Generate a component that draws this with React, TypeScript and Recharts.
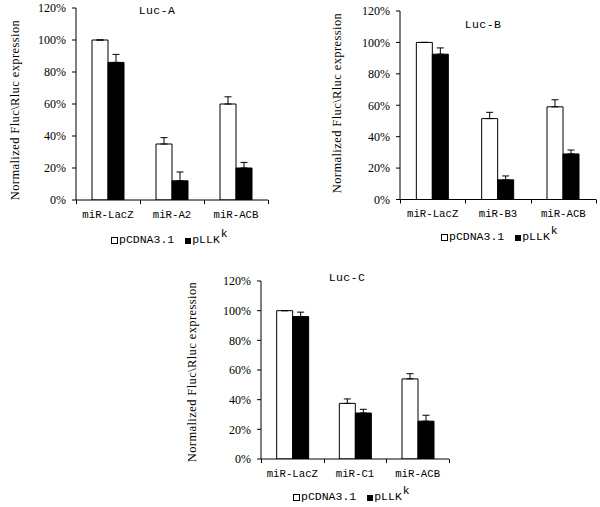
import React from 'react';
import { BarChart, Bar, XAxis, YAxis, ErrorBar, Legend } from 'recharts';

// ---- Data ----
const categoriesA = ['miR-LacZ', 'miR-A2', 'miR-ACB'];
const pcdnaA = [100, 35, 60];
const pcdnaErrA = [0, 4, 4.5];
const pllkA = [86, 12, 20];
const pllkErrA = [5, 5.5, 3.5];

const categoriesB = ['miR-LacZ', 'miR-B3', 'miR-ACB'];
const pcdnaB = [100, 51.5, 59];
const pcdnaErrB = [0, 4, 4.5];
const pllkB = [92.5, 12.5, 29];
const pllkErrB = [4, 2.5, 2.5];

const categoriesC = ['miR-LacZ', 'miR-C1', 'miR-ACB'];
const pcdnaC = [100, 37.5, 54];
const pcdnaErrC = [0, 3, 3.5];
const pllkC = [96, 31, 25.5];
const pllkErrC = [3, 2.5, 4];

const yTicks = [0, 20, 40, 60, 80, 100, 120];
const seriesNames = ['pCDNA3.1', 'pLLK'];
const seriesSup = 'k';
const yLabel = 'Normalized Fluc\\Rluc expression';
const titles = ['Luc-A', 'Luc-B', 'Luc-C'];

const SERIF = '"Liberation Serif", "Times New Roman", serif';
const MONO = '"Liberation Mono", "DejaVu Sans Mono", monospace';
const X_TICK_SIZE = 4;
const X_TICK_MARGIN = 6;

function buildData(cats: string[], a: number[], aErr: number[], b: number[], bErr: number[]) {
  return cats.map((c, i) => ({
    cat: c,
    a: a[i],
    aErr: [0, aErr[i]],
    b: b[i],
    bErr: [0, bErr[i]],
  }));
}

const LegendContent = () => (
  <div
    style={{
      display: 'flex',
      alignItems: 'flex-end',
      fontFamily: MONO,
      fontSize: 11.5,
      lineHeight: '14px',
      height: 14,
      whiteSpace: 'nowrap',
      color: '#000',
    }}
  >
    <span
      style={{
        display: 'inline-block',
        width: 5,
        height: 5,
        border: '1px solid #000',
        background: '#fff',
        marginBottom: 3,
        marginRight: 1,
      }}
    />
    <span>{seriesNames[0]}</span>
    <span
      style={{
        display: 'inline-block',
        width: 6,
        height: 6,
        background: '#000',
        marginLeft: 11,
        marginBottom: 3,
        marginRight: 1,
      }}
    />
    <span>
      {seriesNames[1]}
      <span style={{ position: 'relative', top: -6, marginLeft: 1 }}>{seriesSup}</span>
    </span>
  </div>
);

const makeXTick = (plotWidth: number, n: number) => (props: any) => {
  const { x, y, payload, index } = props;
  const band = plotWidth / n;
  const axisY = y - X_TICK_SIZE - X_TICK_MARGIN;
  const right = Math.round(x + band / 2) + 0.5;
  const left = Math.round(x - band / 2) + 0.5;
  return (
    <g>
      <text
        x={x}
        y={y}
        dy="0.71em"
        textAnchor="middle"
        fill="#000"
        fontSize={10.7}
        fontFamily={MONO}
      >
        {payload.value}
      </text>
      <line x1={right} x2={right} y1={axisY} y2={axisY + X_TICK_SIZE} stroke="#000" strokeWidth={1} />
      {index === 0 && (
        <line x1={left} x2={left} y1={axisY} y2={axisY + X_TICK_SIZE} stroke="#000" strokeWidth={1} />
      )}
    </g>
  );
};

type PanelProps = {
  cats: string[];
  a: number[];
  aErr: number[];
  b: number[];
  bErr: number[];
  title: string;
  left: number;
  top: number;
  width: number;
  height: number;
  margin: { top: number; right: number; left: number; bottom: number };
  yAxisWidth: number;
  titlePos: [number, number];
  labelPos: [number, number];
  legendPos: [number, number];
};

const Panel = (p: PanelProps) => {
  const data = buildData(p.cats, p.a, p.aErr, p.b, p.bErr);
  const plotWidth = p.width - p.margin.left - p.margin.right - p.yAxisWidth;
  const XTick = makeXTick(plotWidth, p.cats.length);
  return (
    <div style={{ position: 'absolute', left: p.left, top: p.top, width: p.width, height: p.height }}>
      <BarChart
        width={p.width}
        height={p.height}
        data={data}
        margin={p.margin}
        barCategoryGap="25%"
        barGap={0}
      >
        <XAxis
          dataKey="cat"
          height={1}
          tickLine={false}
          tickSize={X_TICK_SIZE}
          tickMargin={X_TICK_MARGIN}
          axisLine={{ stroke: '#000', strokeWidth: 1 }}
          tick={XTick}
          interval={0}
        />
        <YAxis
          width={p.yAxisWidth}
          domain={[0, 120]}
          ticks={yTicks}
          interval={0}
          tickFormatter={(v: number) => `${v}%`}
          tickSize={4}
          tickMargin={6}
          axisLine={{ stroke: '#000', strokeWidth: 1 }}
          tickLine={{ stroke: '#000', strokeWidth: 1 }}
          tick={{ fill: '#000', fontSize: 12, fontFamily: SERIF }}
          allowDataOverflow
        />
        <Bar dataKey="a" name={seriesNames[0]} fill="#fff" stroke="#000" strokeWidth={1} isAnimationActive={false}>
          <ErrorBar dataKey="aErr" direction="y" width={3.5} stroke="#000" strokeWidth={1} />
        </Bar>
        <Bar dataKey="b" name={seriesNames[1]} fill="#000" stroke="#000" strokeWidth={1} isAnimationActive={false}>
          <ErrorBar dataKey="bErr" direction="y" width={3.5} stroke="#000" strokeWidth={1} />
        </Bar>
        <Legend
          layout="horizontal"
          verticalAlign="middle"
          align="center"
          content={<LegendContent />}
          wrapperStyle={{ top: p.legendPos[1], left: p.legendPos[0], width: 'auto', height: 'auto' }}
        />
      </BarChart>
      <div
        style={{
          position: 'absolute',
          left: p.titlePos[0] - 40,
          top: p.titlePos[1] - 7,
          width: 80,
          textAlign: 'center',
          fontFamily: MONO,
          fontSize: 11.5,
          letterSpacing: 0.4,
          fontWeight: 400,
          lineHeight: '14px',
          whiteSpace: 'nowrap',
          color: '#000',
          pointerEvents: 'none',
        }}
      >
        {p.title}
      </div>
      <div
        style={{
          position: 'absolute',
          left: p.labelPos[0] - 100,
          top: p.labelPos[1] - 7,
          width: 200,
          height: 14,
          textAlign: 'center',
          transform: 'rotate(-90deg)',
          transformOrigin: '100px 7px',
          fontFamily: SERIF,
          fontSize: 12.5,
          lineHeight: '14px',
          letterSpacing: 0.4,
          whiteSpace: 'nowrap',
          color: '#000',
          pointerEvents: 'none',
        }}
      >
        {yLabel}
      </div>
    </div>
  );
};

export default function App() {
  return (
    <div style={{ position: 'absolute', left: 0, top: 0, width: 600, height: 507, background: '#fff', overflow: 'hidden' }}>
      <Panel
        cats={categoriesA}
        a={pcdnaA}
        aErr={pcdnaErrA}
        b={pllkA}
        bErr={pllkErrA}
        title={titles[0]}
        left={0}
        top={0}
        width={280}
        height={255}
        margin={{ top: 8, right: 12, left: 0, bottom: 54 }}
        yAxisWidth={76}
        titlePos={[157, 11]}
        labelPos={[15, 110]}
        legendPos={[111, 233]}
      />
      <Panel
        cats={categoriesB}
        a={pcdnaB}
        aErr={pcdnaErrB}
        b={pllkB}
        bErr={pllkErrB}
        title={titles[1]}
        left={300}
        top={0}
        width={300}
        height={255}
        margin={{ top: 11, right: 4, left: 0, bottom: 54.5 }}
        yAxisWidth={100}
        titlePos={[183, 25]}
        labelPos={[37, 103]}
        legendPos={[141, 230]}
      />
      <Panel
        cats={categoriesC}
        a={pcdnaC}
        aErr={pcdnaErrC}
        b={pllkC}
        bErr={pllkErrC}
        title={titles[2]}
        left={150}
        top={260}
        width={310}
        height={247}
        margin={{ top: 21, right: 11, left: 0, bottom: 47 }}
        yAxisWidth={111}
        titlePos={[197, 18]}
        labelPos={[42, 112]}
        legendPos={[143, 230]}
      />
    </div>
  );
}
